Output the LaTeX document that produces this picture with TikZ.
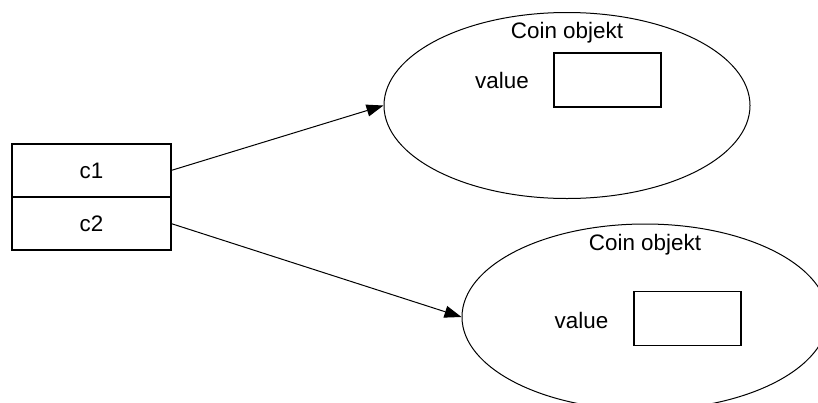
\documentclass[tikz,border=0pt]{standalone}
\usepackage{fontspec}
\setmainfont{Liberation Sans}
\usetikzlibrary{shapes.geometric,positioning,arrows.meta}

\begin{document}
\begin{tikzpicture}[x=0.5pt,y=-0.5pt,font=\fontsize{11.2pt}{13pt}\selectfont,
   cell/.style={draw,line width=0.6pt,outer sep=0pt,inner sep=0pt,minimum width=79.5pt,minimum height=26.5pt},
   obj/.style={draw,ellipse,line width=0.5pt,inner sep=0pt,minimum width=183pt,minimum height=93pt},
   slot/.style={draw,line width=0.6pt,inner sep=0pt,minimum width=53.5pt,minimum height=27pt},
   >={Triangle[length=8.5pt,width=6pt]}]
   \useasboundingbox (0,0) rectangle (818,402);
   \node[cell] (c1) at (91.5,170.5) {c1};
   \node[cell] (c2) [below=0pt of c1] {c2};
   \node[obj] (o1) at (567,105.5) {};
   \node[obj] (o2) at (645,317) {};
   \node (t1) at (567,33) {Coin objekt};
   \node (v1) at (502,80) {value};
   \node[slot] (s1) at (607.5,80) {};
   \node (t2) at (645,245) {Coin objekt};
   \node (v2) at (581.5,320) {value};
   \node[slot] (s2) at (687.5,318.5) {};
    \path[->,line width=0.5pt]
    (c1.east) edge (o1.west)
    (c2.east) edge (o2.west);
\end{tikzpicture}
\end{document}
